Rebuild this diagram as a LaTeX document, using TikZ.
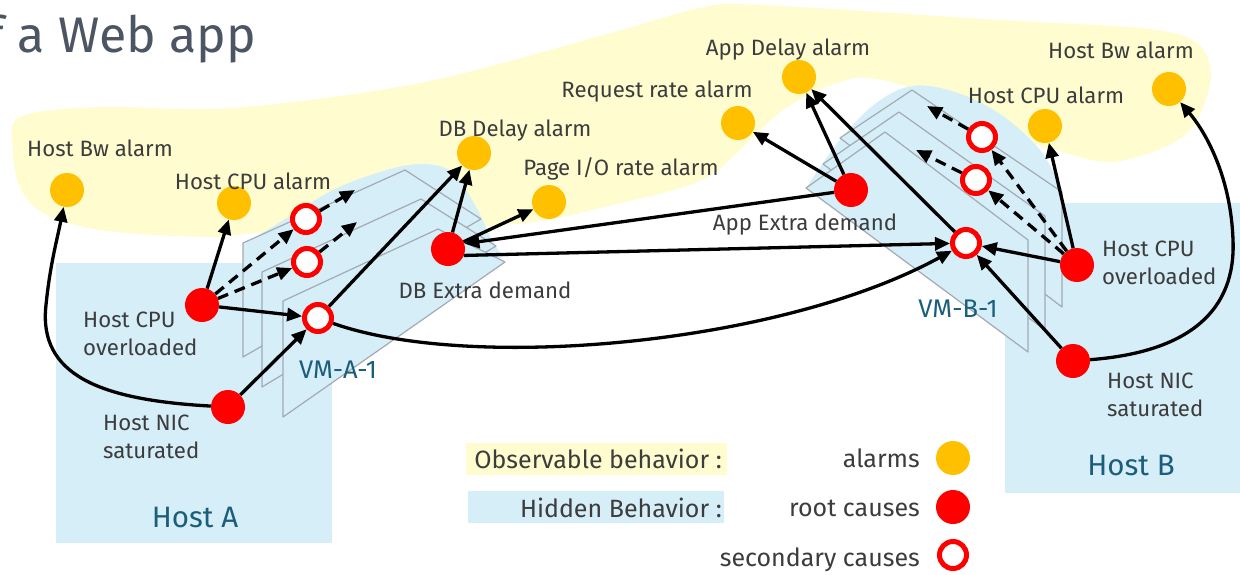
\documentclass[tikz,border=0pt]{standalone}
\usepackage{fontspec}
\setmainfont{Fira Sans}
\usetikzlibrary{arrows.meta}
\definecolor{obsyellow}{HTML}{FFFDD0}
\definecolor{hidblue}{HTML}{D6EEF8}
\definecolor{alarmorange}{HTML}{FFC000}
\definecolor{rootred}{HTML}{FF0000}
\definecolor{labelgray}{HTML}{3C3C3C}
\definecolor{hostteal}{HTML}{1B5E7B}
\definecolor{planegray}{HTML}{A3AAB2}
\definecolor{titlegray}{HTML}{4B5563}
\begin{document}
\begin{tikzpicture}[x=1pt,y=-1pt,
  alarm/.style={circle,fill=alarmorange,minimum size=34pt,inner sep=0pt},
  root/.style={circle,fill=rootred,minimum size=34pt,inner sep=0pt},
  second/.style={circle,draw=rootred,fill=white,line width=5pt,minimum size=27pt,inner sep=0pt},
  lbl/.style={font=\fontsize{22.2}{28}\selectfont,text=labelgray,inner sep=0pt},
  keylbl/.style={font=\fontsize{25}{30}\selectfont,text=labelgray,inner sep=0pt},
  vmlbl/.style={font=\fontsize{25.5}{30}\selectfont,text=hostteal,inner sep=0pt},
  hostlbl/.style={font=\fontsize{29.5}{34}\selectfont,text=hostteal,inner sep=0pt},
  link/.style={line width=3.3pt,-{Triangle[length=15pt,width=13pt]}},
  hint/.style={link,dash pattern=on 11pt off 7pt},
  plane/.style={fill=hidblue,draw=planegray,line width=1.2pt,line join=round},
]
\useasboundingbox (0,0) rectangle (1240,574);
\fill[white] (0,0) rectangle (1240,574);

% title
\node[font=\fontsize{50}{60}\selectfont,text=titlegray,anchor=base east,inner sep=0pt] (title) at (256,52) {f a Web app};

% observable behaviour band
\fill[obsyellow] plot[smooth cycle,tension=0.55] coordinates {
  (20,117) (100,107) (233,108) (420,83) (600,36) (700,8) (760,5) (1000,20) (1150,29)
  (1198,44) (1211,75) (1201,112) (1184,136) (1150,153) (1109,162) (1065,153)
  (1014,136) (945,100) (877,79) (840,82) (783,110) (718,170) (680,188) (613,205)
  (547,220) (490,226) (420,228) (267,232) (207,237) (100,230) (43,213) (20,187) (13,150)};

% hosts
\fill[hidblue] (56,263) rectangle (332,543);
\fill[hidblue] (1005,203) rectangle (1240,493);

% hidden area round the VM stacks
\fill[hidblue] plot[smooth,tension=0.6] coordinates {(243,245) (290,216) (333,190) (380,172) (420,164) (452,172) (475,205) (492,240) (503,256)}
  -- (283,417) -- (243,357) -- cycle;
\fill[hidblue] plot[smooth,tension=0.6] coordinates {(806,188) (840,140) (875,104) (912,86) (955,92) (1000,114) (1040,150) (1062,190)}
  -- (1062,307) -- (1028,352) -- cycle;

% VM-A stack
\filldraw[plane] (243,243) -- (405,170) -- (481,219) -- (243,357) -- cycle;
\filldraw[plane] (262,272) -- (421,199) -- (496,246) -- (262,387) -- cycle;
\filldraw[plane] (283,301) -- (438,229) -- (505,262) -- (283,417) -- cycle;

% VM-B stack
\filldraw[plane] (1062,192) -- (912,90) -- (840,138) -- (1062,307) -- cycle;
\filldraw[plane] (1045,216) -- (899,112) -- (823,164) -- (1045,330) -- cycle;
\filldraw[plane] (1028,240) -- (885,132) -- (806,188) -- (1028,352) -- cycle;

% legend backgrounds
\fill[obsyellow] (466,443) rectangle (727,475);
\fill[hidblue] (468,491) rectangle (724,523);

% alarms
\node[alarm] (hbwA) at (67,190) {};
\node[alarm] (hcpuA) at (234,203) {};
\node[alarm] (dbdelay) at (474,153) {};
\node[alarm] (pageio) at (549,202) {};
\node[alarm] (reqrate) at (738,123) {};
\node[alarm] (appdelay) at (799,77) {};
\node[alarm] (hcpuB) at (1045,126) {};
\node[alarm] (hbwB) at (1169,89) {};

% root causes
\node[root] (acpu) at (202,305) {};
\node[root] (anic) at (228,407) {};
\node[root] (dbx) at (448,249) {};
\node[root] (appx) at (851,190) {};
\node[root] (bcpu) at (1077,265) {};
\node[root] (bnic) at (1073,361) {};

% secondary causes
\node[second] (a1) at (306,219) {};
\node[second] (a2) at (307,262) {};
\node[second] (a3) at (318,318) {};
\node[second] (b1) at (982,137) {};
\node[second] (b2) at (976,180) {};
\node[second] (b3) at (966,243) {};

\coordinate (a1end) at (355,190);
\coordinate (a2end) at (357,222);
\coordinate (b1end) at (927,106);
\coordinate (b2end) at (916,150);

% texts
\node[lbl,anchor=base] (thbwA) at (100,156) {Host Bw alarm};
\node[lbl,anchor=base] (thcpuA) at (253,189) {Host CPU alarm};
\node[lbl,anchor=base] (tdbdelay) at (515,136) {DB Delay alarm};
\node[lbl,anchor=base] (tpageio) at (621,175) {Page I/O rate alarm};
\node[lbl,anchor=base] (treqrate) at (657,97) {Request rate alarm};
\node[lbl,anchor=base] (tappdelay) at (788,55) {App Delay alarm};
\node[lbl,anchor=base] (thcpuB) at (1046,103) {Host CPU alarm};
\node[lbl,anchor=base] (thbwB) at (1121,58) {Host Bw alarm};
\node[lbl,anchor=base] (tappx) at (805,230) {App Extra demand};
\node[lbl,anchor=base] (tdbx) at (485,298) {DB Extra demand};
\node[lbl,anchor=west,align=left] (tacpu) at (83,334) {Host CPU\\overloaded};
\node[lbl,anchor=west,align=left] (tanic) at (103,437) {Host NIC\\saturated};
\node[lbl,anchor=west,align=left] (tbcpu) at (1102,263) {Host CPU\\overloaded};
\node[lbl,anchor=west,align=left] (tbnic) at (1107,395) {Host NIC\\saturated};
\node[vmlbl,anchor=base] (tvma) at (338,378) {VM-A-1};
\node[vmlbl,anchor=base] (tvmb) at (958,317) {VM-B-1};
\node[hostlbl,anchor=base] (thosta) at (195,527) {Host A};
\node[hostlbl,anchor=base] (thostb) at (1131,475) {Host B};

% legend
\node[keylbl,anchor=base east] (tobs) at (722,468) {Observable behavior :};
\node[keylbl,anchor=base east] (thid) at (722,517) {Hidden Behavior :};
\node[keylbl,anchor=base east] (talarms) at (920,467) {alarms};
\node[keylbl,anchor=base east] (troots) at (920,516) {root causes};
\node[keylbl,anchor=base east] (tseconds) at (920,566) {secondary causes};
\node[alarm] (kalarm) at (953,458) {};
\node[root] (kroot) at (953,507) {};
\node[second] (ksecond) at (953,555) {};

% causal links, host A side
\draw[link] (acpu) -- (hcpuA);
\draw[hint] (acpu) -- (a1);
\draw[hint] (acpu) -- (a2);
\draw[hint] (a1) -- (a1end);
\draw[hint] (a2) -- (a2end);
\draw[link] (acpu) -- (a3);
\draw[link] (anic) -- (a3);
\draw[link] (anic) .. controls (100,400) and (38,375) .. (46,305) .. controls (50,265) and (57,240) .. (hbwA);
\draw[link] (a3) -- (dbdelay);
\draw[link] (a3) .. controls (470,372) and (780,345) .. (b3);

% application links
\draw[link] (dbx) -- (dbdelay);
\draw[link] (dbx) -- (pageio);
\draw[link] (appx) -- (dbx.18);
\draw[link] (dbx.-22) -- (b3);
\draw[link] (appx) -- (reqrate);
\draw[link] (appx) -- (appdelay);
\draw[link] (b3) -- (appdelay);

% causal links, host B side
\draw[link] (bcpu) -- (b3);
\draw[link] (bnic) -- (b3);
\draw[link] (bcpu) -- (hcpuB);
\draw[hint] (bcpu) -- (b1);
\draw[hint] (bcpu) -- (b2);
\draw[hint] (b1) -- (b1end);
\draw[hint] (b2) -- (b2end);
\draw[link] (bnic) .. controls (1190,352) and (1236,310) .. (1233,240) .. controls (1231,180) and (1208,135) .. (hbwB);
\end{tikzpicture}
\end{document}
